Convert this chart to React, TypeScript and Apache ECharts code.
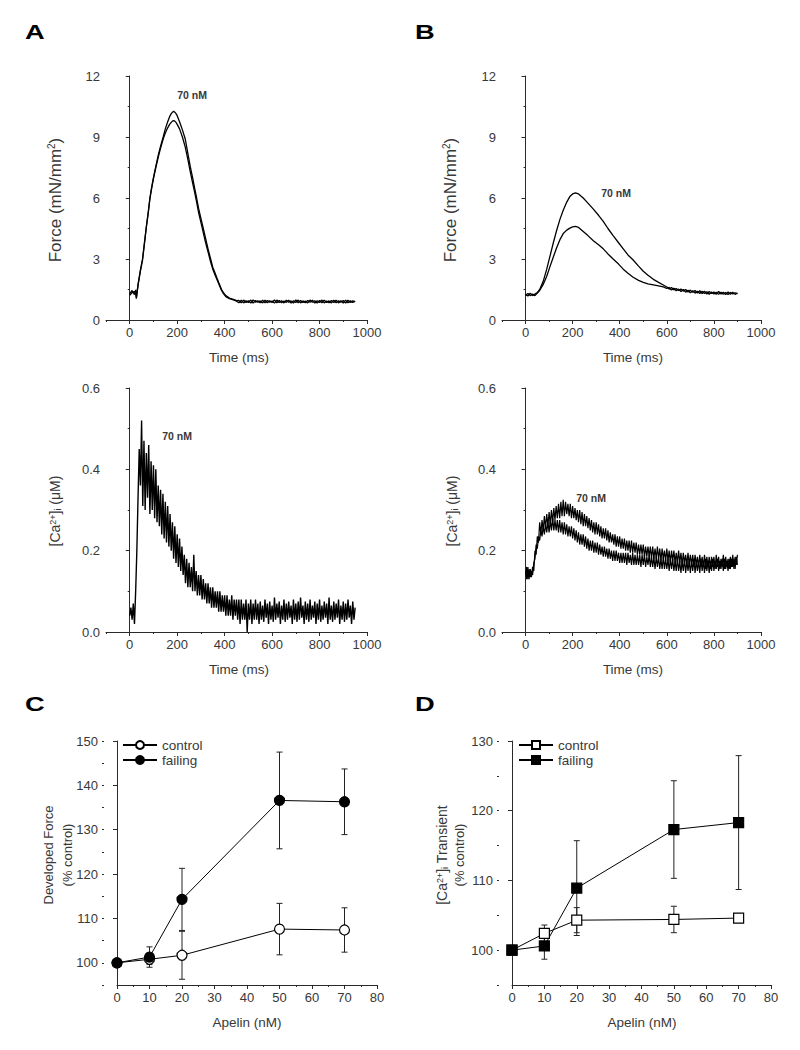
import React, { useEffect, useRef } from "react";
import * as echarts from "echarts";

const FONT = "Arial, 'Liberation Sans', Helvetica, sans-serif";
const INK = "#000";
const AXIS = "#2a2a2a";
const LABEL = "#383838";

// ---------- Panel A : force traces (time in ms, force in mN/mm2) ----------
const forceATime = [0, 10, 20, 25, 28, 35, 45, 54, 62, 70, 78, 85, 92, 100, 110, 120, 130, 141, 150, 160, 168, 175, 180, 185, 190, 195, 200, 210, 222, 234, 245, 255, 265, 275, 282, 290, 300, 310, 320, 330, 341, 350, 360, 368, 375, 387, 395, 405, 420, 440, 450];
const forceA70 = [1.3, 1.45, 1.25, 1.48, 1.05, 1.75, 2.45, 3.0, 3.8, 4.6, 5.3, 6.0, 6.5, 7.0, 7.55, 8.1, 8.55, 9.0, 9.4, 9.75, 10.0, 10.15, 10.22, 10.26, 10.22, 10.15, 10.05, 9.75, 9.35, 8.9, 8.2, 7.55, 7.0, 6.4, 6.0, 5.5, 5.0, 4.5, 4.0, 3.5, 3.0, 2.6, 2.3, 2.05, 1.85, 1.5, 1.35, 1.2, 1.08, 1.0, 0.95];
const forceACtl = [1.22, 1.35, 1.4, 1.3, 1.1, 1.7, 2.4, 2.95, 3.75, 4.55, 5.25, 5.95, 6.45, 6.95, 7.5, 8.0, 8.45, 8.9, 9.2, 9.45, 9.62, 9.72, 9.78, 9.8, 9.78, 9.72, 9.62, 9.4, 9.0, 8.5, 7.9, 7.3, 6.75, 6.2, 5.8, 5.3, 4.8, 4.3, 3.8, 3.35, 2.85, 2.5, 2.2, 1.98, 1.78, 1.45, 1.3, 1.15, 1.05, 0.98, 0.92];
// baseline, sampled every 10 ms from 460 ms
const forceA70Base = [0.96, 0.84, 0.98, 0.86, 0.95, 0.83, 0.99, 0.87, 0.94, 0.85, 0.97, 0.84, 0.96, 0.88, 0.93, 0.83, 0.98, 0.86, 0.95, 0.84, 0.97, 0.87, 0.94, 0.83, 0.99, 0.85, 0.96, 0.86, 0.93, 0.84, 0.98, 0.87, 0.95, 0.83, 0.96, 0.85, 0.97, 0.86, 0.94, 0.84, 0.98, 0.85, 0.95, 0.87, 0.96, 0.83, 0.97, 0.86, 0.94, 0.9];
const forceACtlBase = [0.85, 0.97, 0.84, 0.95, 0.86, 0.98, 0.83, 0.96, 0.87, 0.94, 0.84, 0.97, 0.85, 0.95, 0.86, 0.99, 0.84, 0.96, 0.85, 0.93, 0.87, 0.97, 0.83, 0.95, 0.86, 0.98, 0.84, 0.94, 0.85, 0.96, 0.87, 0.97, 0.83, 0.95, 0.86, 0.98, 0.84, 0.93, 0.85, 0.96, 0.86, 0.97, 0.84, 0.95, 0.83, 0.98, 0.85, 0.94, 0.86, 0.92];

// ---------- Panel B : force traces ----------
const forceBTime = [0, 10, 20, 30, 40, 50, 60, 75, 90, 103, 118, 132, 146, 160, 175, 188, 200, 212, 225, 245, 265, 288, 310, 330, 350, 372, 395, 415, 435, 457, 480, 500, 520, 543, 565, 585];
const forceB70 = [1.25, 1.18, 1.32, 1.2, 1.28, 1.35, 1.5, 1.9, 2.5, 3.1, 3.8, 4.4, 4.95, 5.4, 5.8, 6.07, 6.2, 6.25, 6.2, 6.0, 5.75, 5.45, 5.15, 4.85, 4.5, 4.15, 3.8, 3.5, 3.2, 2.95, 2.65, 2.4, 2.2, 2.0, 1.85, 1.72];
const forceBCtl = [1.22, 1.3, 1.2, 1.27, 1.2, 1.33, 1.45, 1.75, 2.15, 2.6, 3.1, 3.55, 3.95, 4.25, 4.42, 4.52, 4.58, 4.6, 4.55, 4.35, 4.15, 3.9, 3.7, 3.5, 3.25, 3.0, 2.75, 2.5, 2.3, 2.1, 1.95, 1.85, 1.78, 1.73, 1.68, 1.63];
// baseline, sampled every 10 ms from 600 ms
const forceB70Base = [1.62, 1.52, 1.6, 1.48, 1.55, 1.45, 1.52, 1.42, 1.5, 1.38, 1.47, 1.36, 1.45, 1.33, 1.44, 1.3, 1.42, 1.28, 1.4, 1.3, 1.38, 1.26, 1.4, 1.28, 1.37, 1.25, 1.38, 1.27, 1.36, 1.26, 1.33];
const forceBCtlBase = [1.55, 1.6, 1.47, 1.56, 1.44, 1.52, 1.4, 1.5, 1.37, 1.46, 1.34, 1.44, 1.32, 1.42, 1.3, 1.41, 1.3, 1.39, 1.27, 1.38, 1.28, 1.36, 1.26, 1.37, 1.27, 1.35, 1.25, 1.36, 1.28, 1.34, 1.3];

// ---------- [Ca2+]i traces, sampled every 5 ms from 0 ms ----------
const caA = [
  0.04, 0.06, 0.03, 0.07, 0.02, 0.1, 0.2, 0.33, 0.45, 0.36,
  0.52, 0.31, 0.47, 0.3, 0.44, 0.33, 0.46, 0.29, 0.42, 0.3,
  0.41, 0.28, 0.4, 0.27, 0.36, 0.26, 0.35, 0.24, 0.34, 0.23,
  0.32, 0.22, 0.31, 0.21, 0.29, 0.2, 0.27, 0.18, 0.26, 0.17,
  0.24, 0.16, 0.23, 0.15, 0.21, 0.14, 0.19, 0.12, 0.18, 0.11,
  0.17, 0.11, 0.16, 0.1, 0.19, 0.1, 0.15, 0.09, 0.14, 0.09,
  0.14, 0.08, 0.13, 0.08, 0.12, 0.07, 0.12, 0.07, 0.11, 0.06,
  0.11, 0.06, 0.1, 0.06, 0.1, 0.05, 0.1, 0.05, 0.09, 0.05,
  0.09, 0.04, 0.09, 0.04, 0.08, 0.04, 0.09, 0.03, 0.08, 0.04,
  0.08, 0.03, 0.08, 0.02, 0.08, 0.03, 0.07, 0.03, 0.08, 0.0,
  0.07, 0.03, 0.08, 0.02, 0.07, 0.03, 0.08, 0.03, 0.07, 0.02,
  0.075, 0.03, 0.065, 0.025, 0.08, 0.035, 0.07, 0.02, 0.075, 0.03,
  0.065, 0.025, 0.085, 0.03, 0.07, 0.035, 0.075, 0.02, 0.065, 0.03,
  0.08, 0.025, 0.07, 0.03, 0.075, 0.035, 0.065, 0.02, 0.08, 0.03,
  0.07, 0.025, 0.075, 0.03, 0.085, 0.035, 0.065, 0.02, 0.075, 0.03,
  0.07, 0.025, 0.08, 0.03, 0.065, 0.035, 0.075, 0.02, 0.07, 0.03,
  0.08, 0.025, 0.065, 0.03, 0.075, 0.035, 0.07, 0.02, 0.085, 0.03,
  0.065, 0.025, 0.075, 0.03, 0.07, 0.035, 0.08, 0.02, 0.065, 0.03,
  0.075, 0.025, 0.07, 0.03, 0.08, 0.035, 0.065, 0.02, 0.075, 0.03,
  0.06,
];
const caB70 = [
  0.15, 0.13, 0.16, 0.13, 0.155, 0.135, 0.16, 0.15, 0.2, 0.19,
  0.235, 0.22, 0.27, 0.24, 0.275, 0.25, 0.285, 0.255, 0.29, 0.26,
  0.295, 0.265, 0.3, 0.27, 0.305, 0.275, 0.31, 0.28, 0.315, 0.28,
  0.32, 0.285, 0.325, 0.285, 0.32, 0.29, 0.315, 0.285, 0.315, 0.28,
  0.31, 0.28, 0.305, 0.275, 0.3, 0.27, 0.3, 0.265, 0.295, 0.26,
  0.29, 0.26, 0.285, 0.255, 0.28, 0.25, 0.275, 0.245, 0.27, 0.24,
  0.27, 0.24, 0.265, 0.235, 0.26, 0.23, 0.255, 0.23, 0.255, 0.225,
  0.25, 0.22, 0.245, 0.22, 0.24, 0.215, 0.24, 0.21, 0.235, 0.21,
  0.235, 0.205, 0.23, 0.205, 0.23, 0.2, 0.225, 0.2, 0.225, 0.195,
  0.225, 0.195, 0.22, 0.195, 0.22, 0.19, 0.215, 0.19, 0.215, 0.19,
  0.215, 0.185, 0.21, 0.185, 0.21, 0.185, 0.21, 0.18, 0.21, 0.18,
  0.205, 0.18, 0.21, 0.18, 0.205, 0.175, 0.205, 0.18, 0.2, 0.175,
  0.205, 0.175, 0.2, 0.17, 0.2, 0.175, 0.2, 0.17, 0.195, 0.17,
  0.2, 0.17, 0.195, 0.165, 0.195, 0.17, 0.19, 0.165, 0.195, 0.165,
  0.19, 0.165, 0.19, 0.16, 0.19, 0.165, 0.185, 0.16, 0.19, 0.16,
  0.185, 0.16, 0.19, 0.155, 0.185, 0.16, 0.185, 0.155, 0.185, 0.16,
  0.185, 0.155, 0.19, 0.16, 0.185, 0.155, 0.18, 0.16, 0.19, 0.155,
  0.185, 0.16, 0.18, 0.155, 0.185, 0.16, 0.19, 0.155, 0.185, 0.165,
  0.19,
];
const caBCtl = [
  0.14, 0.16, 0.13, 0.155, 0.135, 0.15, 0.14, 0.17, 0.18, 0.215,
  0.205, 0.235, 0.225, 0.25, 0.235, 0.26, 0.24, 0.265, 0.245, 0.27,
  0.245, 0.275, 0.25, 0.28, 0.25, 0.275, 0.25, 0.275, 0.245, 0.275,
  0.245, 0.27, 0.24, 0.27, 0.24, 0.265, 0.235, 0.26, 0.235, 0.26,
  0.23, 0.255, 0.225, 0.25, 0.22, 0.245, 0.215, 0.24, 0.215, 0.24,
  0.21, 0.235, 0.205, 0.23, 0.2, 0.225, 0.2, 0.225, 0.195, 0.22,
  0.195, 0.22, 0.19, 0.215, 0.19, 0.21, 0.185, 0.21, 0.185, 0.205,
  0.18, 0.205, 0.18, 0.2, 0.175, 0.2, 0.175, 0.2, 0.175, 0.195,
  0.17, 0.195, 0.17, 0.195, 0.17, 0.195, 0.165, 0.195, 0.17, 0.19,
  0.165, 0.195, 0.165, 0.19, 0.165, 0.19, 0.165, 0.19, 0.16, 0.19,
  0.165, 0.19, 0.16, 0.185, 0.165, 0.19, 0.16, 0.185, 0.16, 0.185,
  0.155, 0.185, 0.16, 0.185, 0.155, 0.18, 0.155, 0.185, 0.155, 0.18,
  0.155, 0.18, 0.15, 0.18, 0.155, 0.18, 0.15, 0.175, 0.15, 0.18,
  0.15, 0.175, 0.145, 0.175, 0.15, 0.18, 0.145, 0.175, 0.15, 0.175,
  0.145, 0.175, 0.15, 0.18, 0.145, 0.175, 0.15, 0.175, 0.145, 0.18,
  0.15, 0.175, 0.145, 0.18, 0.15, 0.175, 0.145, 0.175, 0.15, 0.18,
  0.15, 0.175, 0.155, 0.18, 0.15, 0.175, 0.155, 0.18, 0.15, 0.18,
  0.155, 0.175, 0.15, 0.18, 0.155, 0.18, 0.16, 0.18, 0.155, 0.185,
  0.165,
];

// ---------- Panels C, D : dose response ----------
const apelin = [0, 10, 20, 50, 70];
const forceCtrl = [100, 100.8, 101.7, 107.6, 107.4];
const forceCtrlErr = [0.3, 1.2, 5.4, 5.8, 5.0];
const forceFail = [100, 101.3, 114.3, 136.6, 136.3];
const forceFailErr = [0.3, 2.3, 7.0, 10.9, 7.4];
const caCtrl = [100, 102.4, 104.3, 104.4, 104.6];
const caCtrlErr = [0, 1.2, 1.8, 1.9, 0.4];
const caFail = [100, 100.6, 108.9, 117.3, 118.3];
const caFailErr = [0, 1.9, 6.8, 7.0, 9.6];

const timeTicks = [0, 200, 400, 600, 800, 1000];
const forceCTicks = [100, 110, 120, 130, 140, 150];
const caDTicks = [100, 110, 120, 130];

function pairs(ts: number[], vs: number[]) {
  return ts.map((t, i) => [t, vs[i]]);
}
function sampled(t0: number, step: number, vs: number[]) {
  return vs.map((v, i) => [t0 + i * step, v]);
}

const tickText = { color: LABEL, fontFamily: FONT, fontSize: 13 };
const axisLineStyle = { color: AXIS, width: 1 };

function timeXAxes(grid: number) {
  return [
    {
      type: "value", gridIndex: grid, min: -100, max: 1000, position: "bottom",
      axisLine: { show: true, lineStyle: axisLineStyle },
      axisTick: { show: true, length: 4, customValues: timeTicks, lineStyle: axisLineStyle },
      axisLabel: { show: true, customValues: timeTicks, margin: 6, ...tickText, formatter: (v: number) => String(v) },
      splitLine: { show: false },
    },
    {
      type: "value", gridIndex: grid, min: -100, max: 1000, interval: 100, position: "bottom",
      axisLine: { show: false },
      axisTick: { show: true, length: 2, lineStyle: axisLineStyle },
      axisLabel: { show: false },
      splitLine: { show: false },
    },
  ];
}

function yAxisSimple(grid: number, max: number, interval: number, dec: number) {
  return {
    type: "value", gridIndex: grid, min: 0, max, interval, position: "left",
    axisLine: { show: true, lineStyle: axisLineStyle },
    axisTick: { show: true, length: 4, lineStyle: axisLineStyle },
    minorTick: { show: true, splitNumber: 2, length: 2, lineStyle: axisLineStyle },
    axisLabel: { margin: 6, ...tickText, formatter: (v: number) => v.toFixed(dec) },
    splitLine: { show: false },
  };
}

function doseYAxes(grid: number, max: number, ticks: number[]) {
  return [
    {
      type: "value", gridIndex: grid, min: 95, max, position: "left", offset: 13,
      axisLine: { show: true, lineStyle: axisLineStyle },
      axisTick: { show: true, length: 4, customValues: ticks, lineStyle: axisLineStyle },
      axisLabel: { margin: 6, customValues: ticks, ...tickText },
      splitLine: { show: false },
    },
    {
      type: "value", gridIndex: grid, min: 95, max, interval: 5, position: "left", offset: 13,
      axisLine: { show: false },
      axisTick: { show: true, length: 2, lineStyle: axisLineStyle },
      axisLabel: { show: false },
      splitLine: { show: false },
    },
  ];
}

function doseXAxis(grid: number) {
  return {
    type: "value", gridIndex: grid, min: 0, max: 80, interval: 10, position: "bottom",
    axisLine: { show: true, lineStyle: axisLineStyle },
    axisTick: { show: true, length: 4, lineStyle: axisLineStyle },
    minorTick: { show: true, splitNumber: 2, length: 2, lineStyle: axisLineStyle },
    axisLabel: { margin: 6, ...tickText },
    splitLine: { show: false },
  };
}

function trace(name: string, xi: number, yi: number, data: number[][], width = 1) {
  return {
    name, type: "line", xAxisIndex: xi, yAxisIndex: yi, data,
    showSymbol: false, symbol: "none", silent: true,
    lineStyle: { color: INK, width },
    z: 3,
  };
}

function doseLine(name: string, xi: number, yi: number, ys: number[], symbol: string, filled: boolean) {
  return {
    name, type: "line", xAxisIndex: xi, yAxisIndex: yi,
    data: apelin.map((x, i) => [x, ys[i]]),
    symbol, symbolSize: 10, showSymbol: true,
    lineStyle: { color: INK, width: 1 },
    itemStyle: { color: filled ? INK : "#fff", borderColor: INK, borderWidth: 1.2 },
    z: 4,
  };
}

function errBars(xi: number, yi: number, ys: number[], errs: number[]) {
  return {
    type: "custom", xAxisIndex: xi, yAxisIndex: yi, silent: true, z: 2,
    data: apelin.map((x, i) => [x, ys[i] - errs[i], ys[i] + errs[i]]),
    encode: { x: 0, y: [1, 2] },
    renderItem: (_p: any, api: any) => {
      const x = api.value(0);
      const lo = api.coord([x, api.value(1)]);
      const hi = api.coord([x, api.value(2)]);
      const w = 3;
      const st = { stroke: "#222", lineWidth: 1 };
      return {
        type: "group",
        children: [
          { type: "line", shape: { x1: lo[0], y1: lo[1], x2: hi[0], y2: hi[1] }, style: st },
          { type: "line", shape: { x1: lo[0] - w, y1: lo[1], x2: lo[0] + w, y2: lo[1] }, style: st },
          { type: "line", shape: { x1: hi[0] - w, y1: hi[1], x2: hi[0] + w, y2: hi[1] }, style: st },
        ],
      };
    },
  };
}

function label(x: number, y: number, text: string, size: number, opts: any = {}) {
  return {
    type: "text", x, y, rotation: opts.rotate ? Math.PI / 2 : 0, silent: true,
    scaleX: opts.sx || 1,
    style: {
      text, fontFamily: FONT, fontSize: size, fontWeight: opts.bold ? "bold" : "normal",
      fill: opts.color || LABEL, align: opts.align || "center", verticalAlign: opts.va || "middle",
      rich: opts.rich,
    },
  };
}

const forceRich = {
  n: { fontFamily: FONT, fontSize: 17, fill: LABEL },
  sup: { fontFamily: FONT, fontSize: 10, fill: LABEL, verticalAlign: "top" },
};
const caRich = {
  n: { fontFamily: FONT, fontSize: 14, fill: LABEL },
  sup: { fontFamily: FONT, fontSize: 9, fill: LABEL, verticalAlign: "top" },
  sub: { fontFamily: FONT, fontSize: 9, fill: LABEL, verticalAlign: "bottom" },
};

export default function App() {
  const ref = useRef<HTMLDivElement>(null);
  useEffect(() => {
    document.body.style.margin = "0";
    if (!ref.current) return;
    const chart = echarts.init(ref.current, undefined, { renderer: "svg" });

    const grids = [
      { left: 106, top: 76, width: 261, height: 244 },
      { left: 502, top: 76, width: 259, height: 244 },
      { left: 106, top: 388, width: 261, height: 244 },
      { left: 502, top: 388, width: 259, height: 244 },
      { left: 117, top: 741, width: 260, height: 244 },
      { left: 512, top: 741, width: 259, height: 244 },
    ];

    const xAxis = [
      ...timeXAxes(0), ...timeXAxes(1), ...timeXAxes(2), ...timeXAxes(3),
      doseXAxis(4), doseXAxis(5),
    ];
    const yAxis = [
      yAxisSimple(0, 12, 3, 0),
      yAxisSimple(1, 12, 3, 0),
      yAxisSimple(2, 0.6, 0.2, 1),
      yAxisSimple(3, 0.6, 0.2, 1),
      ...doseYAxes(4, 150, forceCTicks),
      ...doseYAxes(5, 130, caDTicks),
    ];

    const series: any[] = [
      trace("A 70 nM", 0, 0, [...pairs(forceATime, forceA70), ...sampled(460, 10, forceA70Base)], 1.3),
      trace("A control", 0, 0, [...pairs(forceATime, forceACtl), ...sampled(460, 10, forceACtlBase)], 1.3),
      trace("B 70 nM", 2, 1, [...pairs(forceBTime, forceB70), ...sampled(600, 10, forceB70Base)], 1.3),
      trace("B control", 2, 1, [...pairs(forceBTime, forceBCtl), ...sampled(600, 10, forceBCtlBase)], 1.3),
      trace("A Ca", 4, 2, sampled(0, 5, caA), 1.4),
      trace("B Ca 70 nM", 6, 3, sampled(0, 5, caB70), 1.2),
      trace("B Ca control", 6, 3, sampled(0, 5, caBCtl), 1.2),
      errBars(8, 4, forceCtrl, forceCtrlErr),
      errBars(8, 4, forceFail, forceFailErr),
      doseLine("C control", 8, 4, forceCtrl, "circle", false),
      doseLine("C failing", 8, 4, forceFail, "circle", true),
      errBars(9, 6, caCtrl, caCtrlErr),
      errBars(9, 6, caFail, caFailErr),
      doseLine("D control", 9, 6, caCtrl, "rect", false),
      doseLine("D failing", 9, 6, caFail, "rect", true),
    ];

    const legendBase = {
      orient: "vertical", itemWidth: 34, itemHeight: 10, itemGap: 1, selectedMode: false,
      formatter: (n: string) => n.slice(2),
      textStyle: { fontFamily: FONT, fontSize: 13.5, color: LABEL },
      padding: 0,
    };

    const graphic: any[] = [
      label(25, 32, "A", 21, { bold: true, color: "#000", align: "left", sx: 1.3 }),
      label(415, 32, "B", 21, { bold: true, color: "#000", align: "left", sx: 1.3 }),
      label(25, 704, "C", 21, { bold: true, color: "#000", align: "left", sx: 1.3 }),
      label(415, 704, "D", 21, { bold: true, color: "#000", align: "left", sx: 1.3 }),
      label(55, 200, "{n|Force (mN/mm}{sup|2}{n|)}", 17, { rotate: true, rich: forceRich }),
      label(450, 200, "{n|Force (mN/mm}{sup|2}{n|)}", 17, { rotate: true, rich: forceRich }),
      label(55, 511, "{n|[Ca}{sup|2+}{n|]}{sub|i}{n| (μM)}", 14, { rotate: true, rich: caRich }),
      label(452, 511, "{n|[Ca}{sup|2+}{n|]}{sub|i}{n| (μM)}", 14, { rotate: true, rich: caRich }),
      label(239, 357, "Time (ms)", 13.5),
      label(633, 357, "Time (ms)", 13.5),
      label(239, 669, "Time (ms)", 13.5),
      label(633, 669, "Time (ms)", 13.5),
      label(192, 95, "70 nM", 10.5, { bold: true }),
      label(616, 193, "70 nM", 10.5, { bold: true }),
      label(177, 436, "70 nM", 10.5, { bold: true }),
      label(591, 498, "70 nM", 10.5, { bold: true }),
      label(48, 855, "Developed Force", 13, { rotate: true }),
      label(67, 855, "(% control)", 13, { rotate: true }),
      label(442, 855, "{n|[Ca}{sup|2+}{n|]}{sub|i}{n| Transient}", 14, { rotate: true, rich: caRich }),
      label(459, 855, "(% control)", 13, { rotate: true }),
      label(247, 1022, "Apelin (nM)", 13.5),
      label(642, 1022, "Apelin (nM)", 13.5),
    ];

    chart.setOption({
      animation: false,
      backgroundColor: "#fff",
      textStyle: { fontFamily: FONT },
      grid: grids,
      xAxis,
      yAxis,
      series,
      legend: [
        { ...legendBase, left: 122, top: 738, data: ["C control", "C failing"] },
        { ...legendBase, left: 518, top: 738, data: ["D control", "D failing"] },
      ],
      graphic,
    });
    return () => chart.dispose();
  }, []);
  return <div ref={ref} style={{ width: 800, height: 1050 }} />;
}
